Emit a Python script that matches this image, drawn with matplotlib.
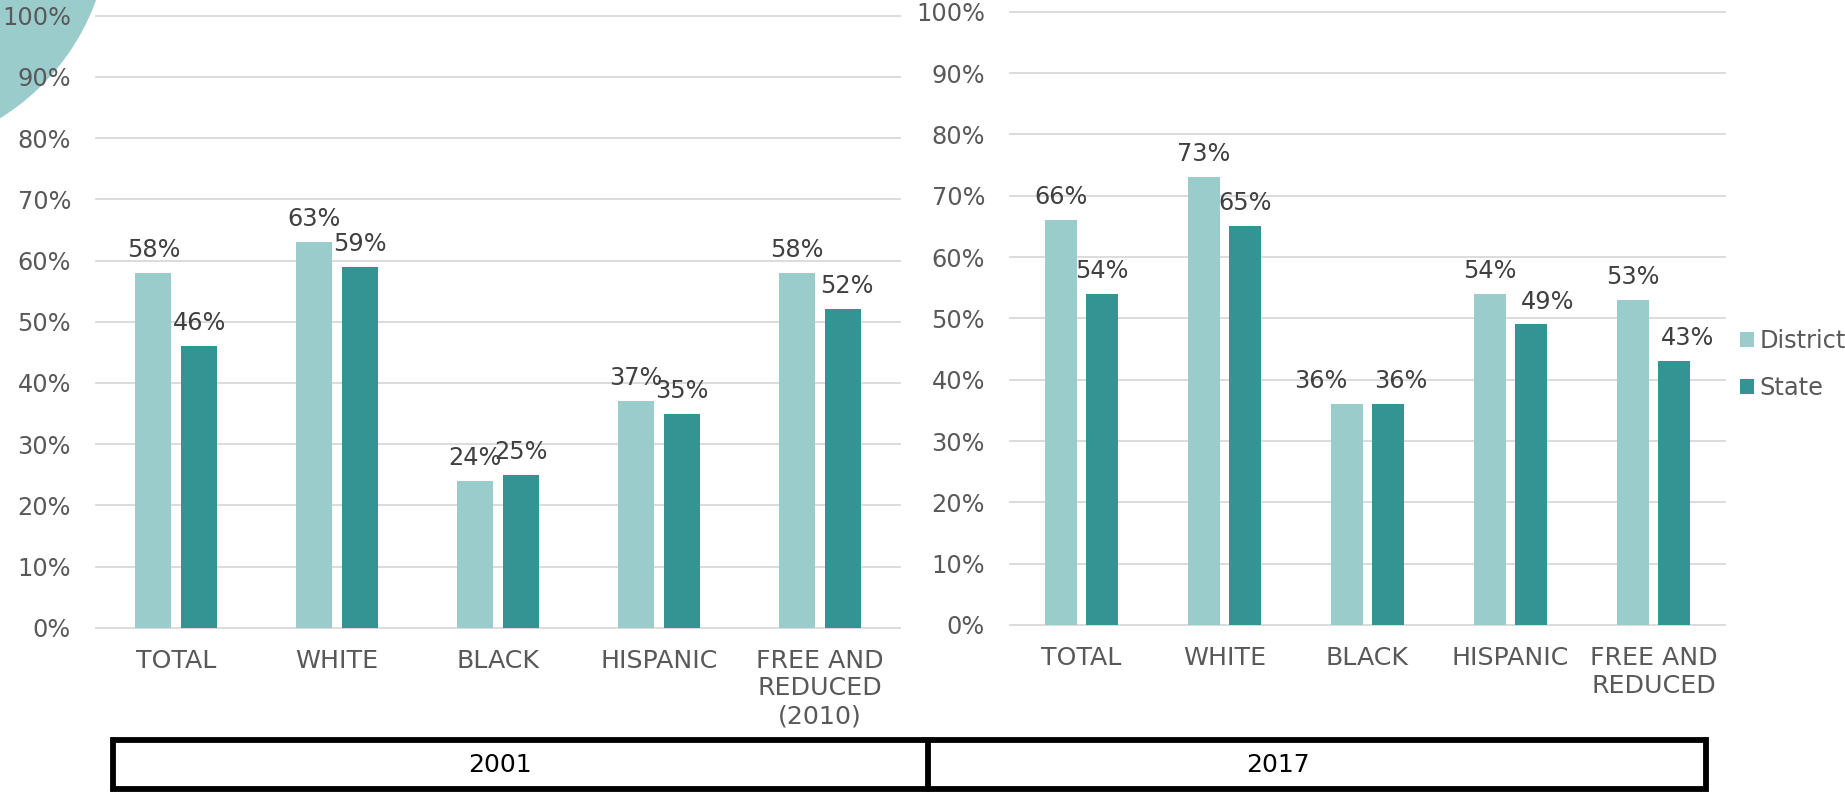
import matplotlib
matplotlib.use("Agg")
import matplotlib.pyplot as plt
from matplotlib.patches import Circle, Rectangle, Patch

# ---- data ----
cats_2001 = ["TOTAL", "WHITE", "BLACK", "HISPANIC", "FREE AND\nREDUCED\n(2010)"]
cats_2017 = ["TOTAL", "WHITE", "BLACK", "HISPANIC", "FREE AND\nREDUCED"]
district_2001 = [58, 63, 24, 37, 58]
state_2001 = [46, 59, 25, 35, 52]
district_2017 = [66, 73, 36, 54, 53]
state_2017 = [54, 65, 36, 49, 43]
yticks = [0, 10, 20, 30, 40, 50, 60, 70, 80, 90, 100]
series_names = ["District", "State"]
period_labels = ["2001", "2017"]

# label horizontal nudges (pixels), style only
nudge_2001 = ([0, 0, 0, 0, 0], [0, 0, 0, 0, 4])
nudge_2017 = ([0, 0, -26, 0, 0], [0, 0, 13, 17, 14])

C_DIST = "#9bcccc"
C_STATE = "#349494"
C_TICK = "#595959"
C_LAB = "#404040"
C_GRID = "#d9d9d9"
FS = 17.3
FS_CAT = 18.2

W, H = 1845, 792
fig = plt.figure(figsize=(W / 100, H / 100), dpi=100)
plt.rcParams["font.family"] = ["DejaVu Sans"]

# background axes in pixel coords
bg = fig.add_axes([0, 0, 1, 1], zorder=-1)
bg.set_xlim(0, W)
bg.set_ylim(H, 0)
bg.axis("off")
bg.add_patch(Circle((-122, -79), 232, facecolor=C_DIST, edgecolor="none"))


def draw_panel(rect, cats, dvals, svals, nudges):
    ax = fig.add_axes(rect, zorder=1)
    ax.patch.set_alpha(0)
    x = list(range(len(cats)))
    off, w = 0.143, 0.224
    xd = [i - off for i in x]
    xs = [i + off for i in x]
    bd = ax.bar(xd, dvals, width=w, color=C_DIST, zorder=3)
    bs = ax.bar(xs, svals, width=w, color=C_STATE, zorder=3)
    for bars, vals, nd in ((bd, dvals, nudges[0]), (bs, svals, nudges[1])):
        for b, v, n in zip(bars, vals, nd):
            ax.annotate(f"{v}%", (b.get_x() + b.get_width() / 2, v),
                        xytext=(n * 0.72, 11.5), textcoords="offset points",
                        ha="center", va="baseline", fontsize=FS, color=C_LAB,
                        zorder=4)
    ax.set_xlim(-0.5, len(cats) - 0.5)
    ax.set_ylim(0, 100)
    ax.set_yticks(yticks)
    ax.set_yticklabels([f"{t}%" for t in yticks])
    ax.set_xticks(x)
    ax.set_xticklabels(cats, fontsize=FS_CAT)
    ax.tick_params(axis="both", length=0, labelcolor=C_TICK)
    ax.tick_params(axis="y", pad=18, labelsize=FS)
    ax.tick_params(axis="x", pad=15)
    for s in ax.spines.values():
        s.set_visible(False)
    ax.yaxis.grid(True, color=C_GRID, linewidth=1.3, zorder=0)
    ax.set_axisbelow(True)
    for gl in ax.get_ygridlines():
        gl.set_clip_on(False)
    return ax


draw_panel([96 / W, 1 - 627.7 / H, 804 / W, 612 / H], cats_2001, district_2001, state_2001, nudge_2001)
draw_panel([1010 / W, 1 - 625 / H, 715 / W, 613.3 / H], cats_2017, district_2017, state_2017, nudge_2017)

# legend
handles = [Patch(facecolor=C_DIST, edgecolor="none"), Patch(facecolor=C_STATE, edgecolor="none")]
fig.legend(handles, series_names, loc="center left",
           bbox_to_anchor=(1740 / W, 1 - 364.5 / H), frameon=False,
           fontsize=FS, labelcolor=C_TICK, handlelength=0.58, handleheight=0.58,
           handletextpad=0.22, labelspacing=0.95, borderpad=0, borderaxespad=0)

# bottom period boxes
lw = 4.2
bg.add_patch(Rectangle((112.5, 740), 1705.5 - 112.5, 789 - 740, fill=False,
                       edgecolor="black", linewidth=lw, joinstyle="miter", clip_on=False))
bg.plot([928, 928], [740, 789], color="black", linewidth=lw, solid_capstyle="butt")
bg.text(500, 765, period_labels[0], ha="center", va="center", fontsize=18, color="black")
bg.text(1278, 765, period_labels[1], ha="center", va="center", fontsize=18, color="black")

fig.savefig("out.png", dpi=100)
